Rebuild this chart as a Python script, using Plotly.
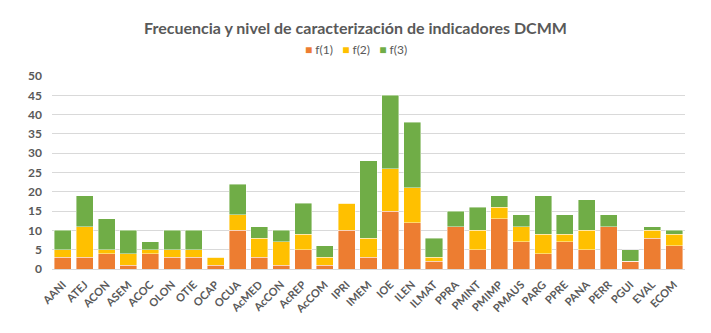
import plotly.graph_objects as go

categories = ["AANI","ATEJ","ACON","ASEM","ACOC","OLON","OTIE","OCAP","OCUA","AcMED","AcCON","AcREP","AcCOM",
              "IPRI","IMEM","IOE","ILEN","ILMAT","PPRA","PMINT","PMIMP","PMAUS","PARG","PPRE","PANA","PERR",
              "PGUI","EVAL","ECOM"]
f1 = [3,3,4,1,4,3,3,1,10,3,1,5,1,10,3,15,12,2,11,5,13,7,4,7,5,11,2,8,6]
f2 = [2,8,1,3,1,2,2,2,4,5,6,4,2,7,5,11,9,1,0,5,3,4,5,2,5,0,0,2,3]
f3 = [5,8,8,6,2,5,5,0,8,3,3,8,3,0,20,19,17,5,4,6,3,3,10,5,8,3,3,1,1]

series_names = ["f(1)", "f(2)", "f(3)"]
colors = ["#ED7D31", "#FFC000", "#70AD47"]
yticks = list(range(0, 51, 5))

font_family = "Lato, 'Open Sans', sans-serif"
grey = "#595959"

fig = go.Figure()
for name, vals, col in zip(series_names, [f1, f2, f3], colors):
    fig.add_trace(go.Bar(x=categories, y=vals, name=name,
                         marker=dict(color=col, line=dict(width=0.6, color="rgba(255,255,255,0.7)"))))

legend_text = "&nbsp;&nbsp;&nbsp;".join(
    f'<span style="color:{c}">■</span> {n}' for n, c in zip(series_names, colors))
fig.add_annotation(text=legend_text, xref="paper", yref="paper", x=(356 - 52) / 633, y=1 + (76 - 50) / 193,
                   xanchor="center", yanchor="middle", showarrow=False, font=dict(size=12, color=grey))

fig.update_layout(
    barmode="stack",
    bargap=0.22,
    showlegend=False,
    width=711, height=333,
    margin=dict(l=52, r=26, t=76, b=64),
    paper_bgcolor="white", plot_bgcolor="white",
    font=dict(family=font_family, color=grey),
    title=dict(text="<b>Frecuencia y nivel de caracterización de indicadores DCMM</b>",
               x=0.5, xref="container", xanchor="center",
               y=1 - 28/333, yref="container", yanchor="middle",
               font=dict(size=16, color=grey, family=font_family)),
    xaxis=dict(tickangle=-45, tickfont=dict(size=11, color=grey, weight="bold"), showgrid=False, automargin=False,
               showline=True, linecolor="#D9D9D9", ticks="", ticklabelstandoff=4),
    yaxis=dict(range=[0, 50], tickvals=yticks, tickfont=dict(size=12, color=grey, weight="bold"), automargin=False,
               showgrid=True, gridcolor="#D9D9D9", gridwidth=1, zeroline=False, ticks="", ticklabelstandoff=9),
)

fig.write_html("out.html", config={"displayModeBar": False},
               post_script="document.body.style.margin='0';document.body.style.overflow='hidden';")
